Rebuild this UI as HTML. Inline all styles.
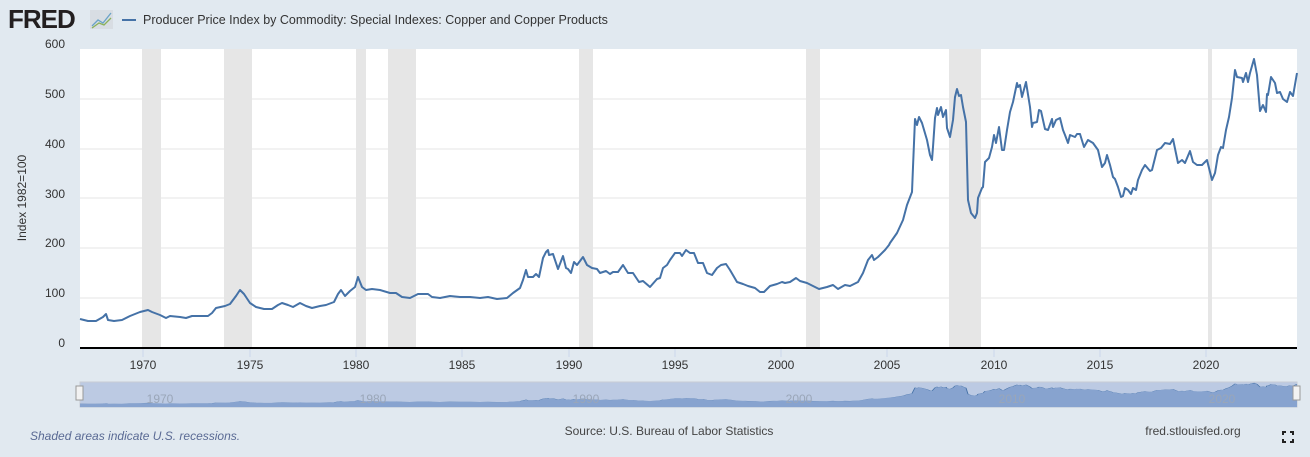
<!DOCTYPE html>
<html><head><meta charset="utf-8"><style>
body{margin:0;width:1310px;height:457px;background:#e1e9f0;overflow:hidden;font-family:"Liberation Sans",sans-serif;}
</style></head><body>
<svg width="1310" height="457" xmlns="http://www.w3.org/2000/svg" style="position:absolute;left:0;top:0">
<defs>
<polyline id="s" points="80,319 88,321 96,321 103,317 106,314 108,320 114,321 122,320 130,316 140,312 148,310 152,312 160,315 166,318 170,316 180,317 186,318 192,316 200,316 208,316 212,313 216,308 225,306 230,304 236,296 240,290 244,294 250,303 256,307 264,309 272,309 278,305 282,303 288,305 293,307 300,303 306,306 312,308 320,306 326,305 334,302 338,294 341,290 345,296 350,291 355,287 358,277 362,287 366,290 372,289 380,290 390,293 396,293 402,297 410,298 418,294 428,294 432,297 440,298 450,296 460,297 470,297 480,298 488,297 497,299 507,298 513,293 520,288 523,280 526,270 528,277 533,277 536,274 539,277 543,258 546,252 548,250 549,255 553,254 556,263 558,269 563,256 566,268 568,269 571,273 574,262 577,265 583,257 587,265 592,268 597,269 600,273 606,271 610,274 613,272 618,272 623,265 628,273 633,273 639,282 643,281 650,287 657,279 660,278 663,268 667,265 670,260 675,253 680,253 682,256 686,250 690,253 694,253 698,263 703,263 707,273 712,275 717,268 721,265 726,264 730,270 737,282 743,284 748,286 755,288 760,292 764,292 770,286 777,284 782,282 785,283 790,282 796,278 800,281 807,283 813,286 819,289 827,287 833,285 838,289 845,285 850,286 858,282 863,273 868,260 872,255 874,260 878,257 885,250 889,245 890,243 897,233 903,220 907,205 912,192 913,167 915,119 917,125 919,117 922,123 927,140 930,155 932,160 933,147 935,118 937,108 938,115 941,107 943,117 946,110 947,128 950,137 953,120 955,97 957,89 959,96 961,95 963,107 966,122 968,200 971,213 975,218 977,213 978,198 982,188 983,187 985,162 989,158 992,147 994,135 996,143 999,127 1002,150 1004,150 1007,130 1010,112 1013,102 1017,83 1018,87 1020,85 1022,97 1026,82 1030,107 1032,127 1033,123 1037,122 1039,110 1041,111 1043,120 1045,129 1048,130 1052,119 1053,127 1056,120 1060,118 1063,130 1065,135 1068,143 1070,135 1075,137 1077,134 1080,134 1084,147 1088,140 1093,143 1098,150 1102,167 1105,163 1107,155 1110,165 1113,177 1115,179 1118,187 1121,197 1123,196 1125,188 1128,190 1131,194 1133,188 1136,190 1138,180 1142,170 1145,165 1150,171 1152,170 1157,150 1161,148 1165,143 1170,144 1173,139 1178,163 1182,160 1185,163 1190,151 1193,162 1197,165 1202,165 1207,160 1212,180 1215,173 1218,155 1221,147 1223,148 1226,130 1229,117 1232,98 1235,70 1237,77 1242,78 1243,82 1246,73 1248,82 1250,73 1254,59 1257,75 1260,111 1263,105 1266,112 1267,94 1268,95 1271,77 1275,83 1277,93 1280,92 1283,99 1287,102 1290,92 1293,96 1297,73"/>
</defs>
<rect x="80" y="49" width="1217" height="299" fill="#fff"/>
<g fill="#e6e6e6">
<rect x="142" y="49" width="19" height="299"/><rect x="224" y="49" width="28" height="299"/>
<rect x="356" y="49" width="10" height="299"/><rect x="388" y="49" width="28" height="299"/>
<rect x="579" y="49" width="14" height="299"/><rect x="806" y="49" width="14" height="299"/>
<rect x="949" y="49" width="32" height="299"/><rect x="1208" y="49" width="4" height="299"/>
</g>
<g stroke="#e6e6e6" stroke-width="1">
<line x1="80" x2="1297" y1="99" y2="99"/><line x1="80" x2="1297" y1="149" y2="149"/>
<line x1="80" x2="1297" y1="198" y2="198"/><line x1="80" x2="1297" y1="248" y2="248"/>
<line x1="80" x2="1297" y1="298" y2="298"/>
</g>
<use href="#s" fill="none" stroke="#4572a7" stroke-width="2" stroke-linejoin="round"/>
<line x1="80" x2="1297" y1="348" y2="348" stroke="#000" stroke-width="2"/>
<g stroke="#ccd6eb"><line x1="143" x2="143" y1="349" y2="357"/><line x1="250" x2="250" y1="349" y2="357"/><line x1="356" x2="356" y1="349" y2="357"/><line x1="462" x2="462" y1="349" y2="357"/><line x1="569" x2="569" y1="349" y2="357"/><line x1="675" x2="675" y1="349" y2="357"/><line x1="781" x2="781" y1="349" y2="357"/><line x1="887" x2="887" y1="349" y2="357"/><line x1="994" x2="994" y1="349" y2="357"/><line x1="1100" x2="1100" y1="349" y2="357"/><line x1="1206" x2="1206" y1="349" y2="357"/></g>
<g font-size="12" fill="#333" text-anchor="middle">
<text x="143" y="369">1970</text><text x="250" y="369">1975</text><text x="356" y="369">1980</text><text x="462" y="369">1985</text><text x="569" y="369">1990</text><text x="675" y="369">1995</text><text x="781" y="369">2000</text><text x="887" y="369">2005</text><text x="994" y="369">2010</text><text x="1100" y="369">2015</text><text x="1206" y="369">2020</text>
</g>
<g font-size="12" fill="#333" text-anchor="end">
<text x="65" y="48">600</text><text x="65" y="98">500</text><text x="65" y="148">400</text><text x="65" y="198">300</text><text x="65" y="247">200</text><text x="65" y="297">100</text><text x="65" y="347">0</text>
</g>
<text transform="translate(26,198) rotate(-90)" font-size="12" fill="#333" text-anchor="middle">Index 1982=100</text>
<!-- navigator -->
<rect x="80" y="382" width="1217" height="25" fill="#bccae3" stroke="#c8ccd4"/>
<g transform="translate(0,406) scale(1,0.08) translate(0,-348)">
<polygon fill="#87a3cf" points="80,362 80,319 88,321 96,321 103,317 106,314 108,320 114,321 122,320 130,316 140,312 148,310 152,312 160,315 166,318 170,316 180,317 186,318 192,316 200,316 208,316 212,313 216,308 225,306 230,304 236,296 240,290 244,294 250,303 256,307 264,309 272,309 278,305 282,303 288,305 293,307 300,303 306,306 312,308 320,306 326,305 334,302 338,294 341,290 345,296 350,291 355,287 358,277 362,287 366,290 372,289 380,290 390,293 396,293 402,297 410,298 418,294 428,294 432,297 440,298 450,296 460,297 470,297 480,298 488,297 497,299 507,298 513,293 520,288 523,280 526,270 528,277 533,277 536,274 539,277 543,258 546,252 548,250 549,255 553,254 556,263 558,269 563,256 566,268 568,269 571,273 574,262 577,265 583,257 587,265 592,268 597,269 600,273 606,271 610,274 613,272 618,272 623,265 628,273 633,273 639,282 643,281 650,287 657,279 660,278 663,268 667,265 670,260 675,253 680,253 682,256 686,250 690,253 694,253 698,263 703,263 707,273 712,275 717,268 721,265 726,264 730,270 737,282 743,284 748,286 755,288 760,292 764,292 770,286 777,284 782,282 785,283 790,282 796,278 800,281 807,283 813,286 819,289 827,287 833,285 838,289 845,285 850,286 858,282 863,273 868,260 872,255 874,260 878,257 885,250 889,245 890,243 897,233 903,220 907,205 912,192 913,167 915,119 917,125 919,117 922,123 927,140 930,155 932,160 933,147 935,118 937,108 938,115 941,107 943,117 946,110 947,128 950,137 953,120 955,97 957,89 959,96 961,95 963,107 966,122 968,200 971,213 975,218 977,213 978,198 982,188 983,187 985,162 989,158 992,147 994,135 996,143 999,127 1002,150 1004,150 1007,130 1010,112 1013,102 1017,83 1018,87 1020,85 1022,97 1026,82 1030,107 1032,127 1033,123 1037,122 1039,110 1041,111 1043,120 1045,129 1048,130 1052,119 1053,127 1056,120 1060,118 1063,130 1065,135 1068,143 1070,135 1075,137 1077,134 1080,134 1084,147 1088,140 1093,143 1098,150 1102,167 1105,163 1107,155 1110,165 1113,177 1115,179 1118,187 1121,197 1123,196 1125,188 1128,190 1131,194 1133,188 1136,190 1138,180 1142,170 1145,165 1150,171 1152,170 1157,150 1161,148 1165,143 1170,144 1173,139 1178,163 1182,160 1185,163 1190,151 1193,162 1197,165 1202,165 1207,160 1212,180 1215,173 1218,155 1221,147 1223,148 1226,130 1229,117 1232,98 1235,70 1237,77 1242,78 1243,82 1246,73 1248,82 1250,73 1254,59 1257,75 1260,111 1263,105 1266,112 1267,94 1268,95 1271,77 1275,83 1277,93 1280,92 1283,99 1287,102 1290,92 1293,96 1297,73 1297,362"/>
<use href="#s" fill="none" stroke="#4572a7" stroke-width="1" vector-effect="non-scaling-stroke"/>
</g>
<g font-size="12" fill="#9aa6b8" text-anchor="middle"><text x="160" y="403">1970</text><text x="373" y="403">1980</text><text x="586" y="403">1990</text><text x="799" y="403">2000</text><text x="1012" y="403">2010</text><text x="1222" y="403">2020</text></g>
<rect x="76" y="386" width="7" height="14" fill="#f2f2f2" stroke="#999"/>
<rect x="1293" y="386" width="7" height="14" fill="#f2f2f2" stroke="#999"/>
<!-- header -->
<text x="8" y="28" font-size="26" font-weight="bold" fill="#231f20" letter-spacing="-1">FRED</text>
<rect x="90" y="10" width="23" height="19" fill="#d8dde3"/>
<polyline points="92,26 98,20 103,23 111,13" fill="none" stroke="#6aa3c8" stroke-width="1.3"/>
<polyline points="92,28 99,23 104,25 111,18" fill="none" stroke="#8bb15a" stroke-width="1.3"/>
<line x1="122" x2="136" y1="20" y2="20" stroke="#4572a7" stroke-width="2"/>
<text x="143" y="24" font-size="12.5" fill="#333">Producer Price Index by Commodity: Special Indexes: Copper and Copper Products</text>
<text x="30" y="440" font-size="12" font-style="italic" fill="#5a6a94">Shaded areas indicate U.S. recessions.</text>
<text x="669" y="435" font-size="12" fill="#444" text-anchor="middle">Source: U.S. Bureau of Labor Statistics</text>
<text x="1193" y="435" font-size="12" fill="#444" text-anchor="middle">fred.stlouisfed.org</text>
<g stroke="#222" stroke-width="2" fill="none"><polyline points="1283,435 1283,432 1286,432"/><polyline points="1290,432 1293,432 1293,435"/><polyline points="1283,439 1283,442 1286,442"/><polyline points="1290,442 1293,442 1293,439"/></g>
</svg>
</body></html>
